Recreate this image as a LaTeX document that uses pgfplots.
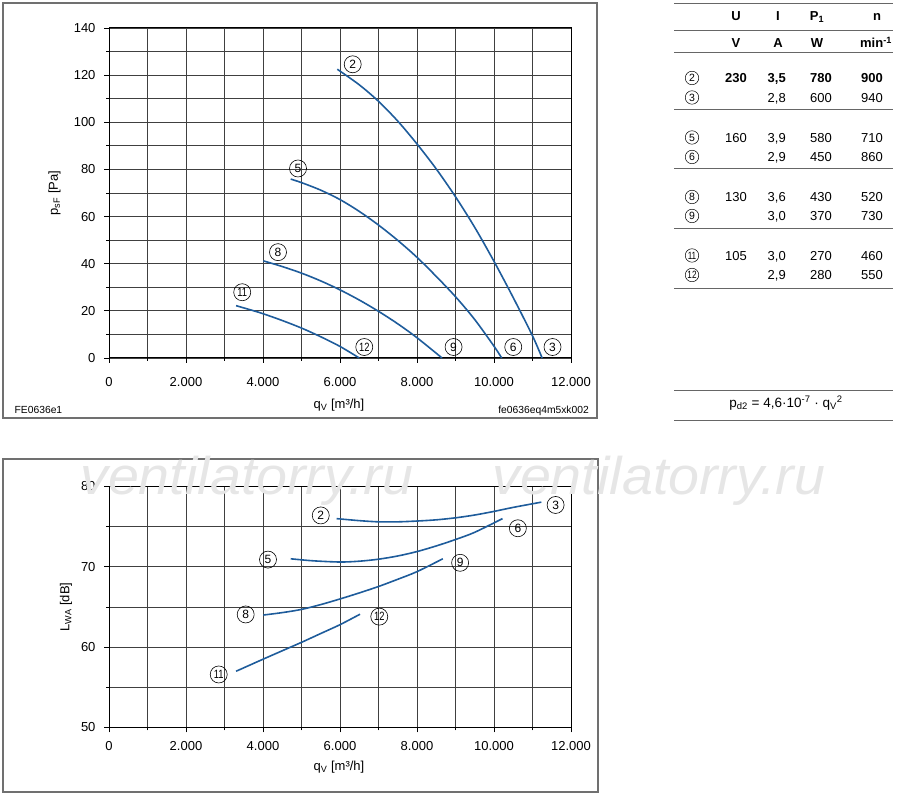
\documentclass[border=0pt]{standalone}
\usepackage{fontspec}
\setmainfont{Liberation Sans}
\usepackage{graphicx}
\usepackage{pgfplots}
\pgfplotsset{compat=1.18}
\definecolor{curve}{HTML}{1E5C9B}
\definecolor{framec}{HTML}{707070}
\definecolor{wm}{HTML}{E6E6E6}
\newcommand{\fs}[1]{\fontsize{#1}{#1}\selectfont}
\newcommand{\two}[1]{\scalebox{0.78}[1]{#1}}
\tikzset{
  cn/.style={circle, draw=black, line width=0.6pt, inner sep=0pt, minimum size=17pt, font=\fs{12}},
  tcn/.style={circle, draw=black, line width=0.5pt, inner sep=0pt, minimum size=13.5pt, font=\fs{10.5}},
  tx/.style={inner sep=0pt, anchor=base, font=\fs{13}},
}
\pgfplotsset{fanstyle/.style={
  scale only axis, anchor=south west,
  xmin=0, xmax=12000,
  xtick={0,2000,...,12000}, minor xtick={1000,3000,...,11000},
  scaled x ticks=false,
  grid=both,
  major grid style={black!75, line width=0.7pt},
  minor grid style={black!75, line width=0.7pt},
  axis line style={black, line width=1pt},
  tick align=outside, tick pos=left,
  major tick length=5pt, minor tick length=3pt,
  tick style={black, line width=0.7pt},
  tick label style={font=\fs{13}},
  /pgf/number format/assume math mode=true,
  /pgf/number format/1000 sep={.},
  yticklabel style={xshift=-5pt},
  clip=false,
}}
\begin{document}
\begin{tikzpicture}
\useasboundingbox (0pt,0pt) rectangle (900pt,797pt);
% frames
\draw[framec, line width=1.2pt] (3pt,794pt) rectangle (597pt,379pt);
\draw[framec, line width=1.2pt] (3pt,338pt) rectangle (598pt,5pt);

% ---------- top chart ----------
\begin{axis}[fanstyle, at={(109pt,439pt)}, width=462pt, height=330pt,
  xticklabel style={yshift=-11pt},
  ymin=0, ymax=140, ytick={0,20,...,140}, minor ytick={10,30,...,130}]
\addplot[curve, line width=1.6pt, smooth] coordinates {
 (5930,122.5) (6500,115.9) (7000,108.9) (7500,100.5) (8000,90.8) (8500,80.2) (9000,68.4)
 (9500,55.4) (10000,41.0) (10500,25.6) (11000,9.4) (11250,0)};
\addplot[curve, line width=1.6pt, smooth] coordinates {
 (4720,75.9) (5000,74.4) (5500,71.2) (6000,67.2) (6500,62.2) (7000,56.4) (7500,49.9)
 (8000,42.7) (8500,34.6) (9000,26.0) (9500,16.3) (10000,5.0) (10200,0)};
\addplot[curve, line width=1.6pt, smooth] coordinates {
 (4010,41.2) (4500,38.8) (5000,36.0) (5500,32.7) (6000,28.9) (6500,24.6) (7000,19.8)
 (7500,14.5) (8000,8.6) (8650,0)};
\addplot[curve, line width=1.6pt, smooth] coordinates {
 (3300,22.2) (3700,20.3) (4000,18.8) (4500,15.9) (5000,12.7) (5500,9.0) (6000,4.9) (6500,0)};
\node[cn] at (axis cs:6330,124.6) {2};
\node[cn] at (axis cs:4910,80.4) {5};
\node[cn] at (axis cs:4390,44.9) {8};
\node[cn] at (axis cs:3460,27.9) {\two{11}};
\node[cn] at (axis cs:6630,4.66) {\two{12}};
\node[cn] at (axis cs:8950,4.66) {9};
\node[cn] at (axis cs:10500,4.66) {6};
\node[cn] at (axis cs:11520,4.66) {3};
\end{axis}

% ---------- bottom chart ----------
\begin{axis}[fanstyle, at={(109pt,69.5pt)}, width=462pt, height=241pt,
  xticklabel style={yshift=-5pt},
  ymin=50, ymax=80, ytick={50,60,70,80}, minor ytick={55,65,75}]
\addplot[curve, line width=1.6pt, smooth] coordinates {
 (5910,76.0) (6500,75.75) (7000,75.6) (7500,75.6) (8000,75.7) (8500,75.85) (9000,76.1)
 (9500,76.45) (10000,76.9) (10500,77.4) (11230,78.05)};
\addplot[curve, line width=1.6pt, smooth] coordinates {
 (4720,71.0) (5300,70.75) (6000,70.6) (6500,70.7) (7000,70.95) (7500,71.35) (8000,71.9)
 (8500,72.6) (9000,73.4) (9500,74.3) (10220,76.0)};
\addplot[curve, line width=1.6pt, smooth] coordinates {
 (4010,64.0) (4500,64.3) (5000,64.7) (5500,65.3) (6000,66.0) (6500,66.75) (7000,67.55)
 (7500,68.45) (8000,69.4) (8670,71.0)};
\addplot[curve, line width=1.6pt, smooth] coordinates {
 (3300,57.0) (3650,57.75) (4000,58.5) (4500,59.55) (5000,60.6) (5500,61.7) (6000,62.8) (6520,64.1)};
\node[cn] at (axis cs:5500,76.4) {2};
\node[cn] at (axis cs:11600,77.7) {3};
\node[cn] at (axis cs:10620,74.8) {6};
\node[cn] at (axis cs:4130,70.9) {5};
\node[cn] at (axis cs:9120,70.5) {9};
\node[cn] at (axis cs:3550,64.07) {8};
\node[cn] at (axis cs:7020,63.8) {\two{12}};
\node[cn] at (axis cs:2850,56.6) {\two{11}};
\end{axis}

% axis labels
\node[inner sep=0pt, font=\fs{13}] at (339pt,392pt) {q\textsubscript{V} [m³/h]};
\node[inner sep=0pt, font=\fs{13}] at (339pt,30.3pt) {q\textsubscript{V} [m³/h]};
\node[inner sep=0pt, font=\fs{13}, rotate=90] at (54.5pt,604pt) {p\textsubscript{sF} [Pa]};
\node[inner sep=0pt, font=\fs{13}, rotate=90] at (66pt,190pt) {L\textsubscript{WA} [dB]};
\node[inner sep=0pt, anchor=base west, font=\fs{10.3}] at (14.5pt,383.4pt) {FE0636e1};
\node[inner sep=0pt, anchor=base east, font=\fs{10.3}] at (589pt,383.4pt) {fe0636eq4m5xk002};

% ---------- table ----------
\foreach \yy in {793.7,766.3,744.7,688,628.5,568.5,508.7,406.3,377}
  \draw[black!60, line width=0.8pt] (674pt,\yy pt) -- (893pt,\yy pt);
\node[tx, font=\fs{13}\bfseries] at (736pt,776.35pt) {U};
\node[tx, font=\fs{13}\bfseries] at (778pt,776.35pt) {I};
\node[tx, font=\fs{13}\bfseries] at (817pt,776.35pt) {P\textsubscript{1}};
\node[tx, font=\fs{13}\bfseries] at (877pt,776.35pt) {n};
\node[tx, font=\fs{13}\bfseries] at (736pt,749.35pt) {V};
\node[tx, font=\fs{13}\bfseries] at (778pt,749.35pt) {A};
\node[tx, font=\fs{13}\bfseries] at (817pt,749.35pt) {W};
\node[tx, font=\fs{13}\bfseries] at (876pt,749.35pt) {min\textsuperscript{-1}};

\node[tcn] at (692pt,719pt) {2};
\node[tcn] at (692pt,699.5pt) {3};
\node[tcn] at (692pt,659.5pt) {5};
\node[tcn] at (692pt,640pt) {6};
\node[tcn] at (692pt,600pt) {8};
\node[tcn] at (692pt,581pt) {9};
\node[tcn] at (692pt,541.5pt) {\two{11}};
\node[tcn] at (692pt,522pt) {\two{12}};

\tikzset{vr/.style={tx, anchor=base east}}
% row 2 (bold)
\node[vr, font=\fs{13}\bfseries] at (747pt,714.35pt) {230};
\node[vr, font=\fs{13}\bfseries] at (786pt,714.35pt) {3,5};
\node[vr, font=\fs{13}\bfseries] at (832pt,714.35pt) {780};
\node[vr, font=\fs{13}\bfseries] at (883pt,714.35pt) {900};
% row 3
\node[vr] at (786pt,694.85pt) {2,8};
\node[vr] at (832pt,694.85pt) {600};
\node[vr] at (883pt,694.85pt) {940};
% row 5
\node[vr] at (747pt,654.85pt) {160};
\node[vr] at (786pt,654.85pt) {3,9};
\node[vr] at (832pt,654.85pt) {580};
\node[vr] at (883pt,654.85pt) {710};
% row 6
\node[vr] at (786pt,635.35pt) {2,9};
\node[vr] at (832pt,635.35pt) {450};
\node[vr] at (883pt,635.35pt) {860};
% row 8
\node[vr] at (747pt,595.35pt) {130};
\node[vr] at (786pt,595.35pt) {3,6};
\node[vr] at (832pt,595.35pt) {430};
\node[vr] at (883pt,595.35pt) {520};
% row 9
\node[vr] at (786pt,576.35pt) {3,0};
\node[vr] at (832pt,576.35pt) {370};
\node[vr] at (883pt,576.35pt) {730};
% row 11
\node[vr] at (747pt,536.85pt) {105};
\node[vr] at (786pt,536.85pt) {3,0};
\node[vr] at (832pt,536.85pt) {270};
\node[vr] at (883pt,536.85pt) {460};
% row 12
\node[vr] at (786pt,517.35pt) {2,9};
\node[vr] at (832pt,517.35pt) {280};
\node[vr] at (883pt,517.35pt) {550};

\node[tx, font=\fs{13.5}] at (786pt,389.35pt) {p\textsubscript{d2} = 4,6·10\textsuperscript{-7} · q\textsubscript{V}\textsuperscript{2}};

% watermark
\node[inner sep=0pt, anchor=base west, text=wm, font=\fs{53}\itshape, xscale=1.05] at (80pt,302pt) {ventilatorry.ru};
\node[inner sep=0pt, anchor=base west, text=wm, font=\fs{53}\itshape, xscale=1.05] at (492pt,302pt) {ventilatorry.ru};
\end{tikzpicture}
\end{document}
